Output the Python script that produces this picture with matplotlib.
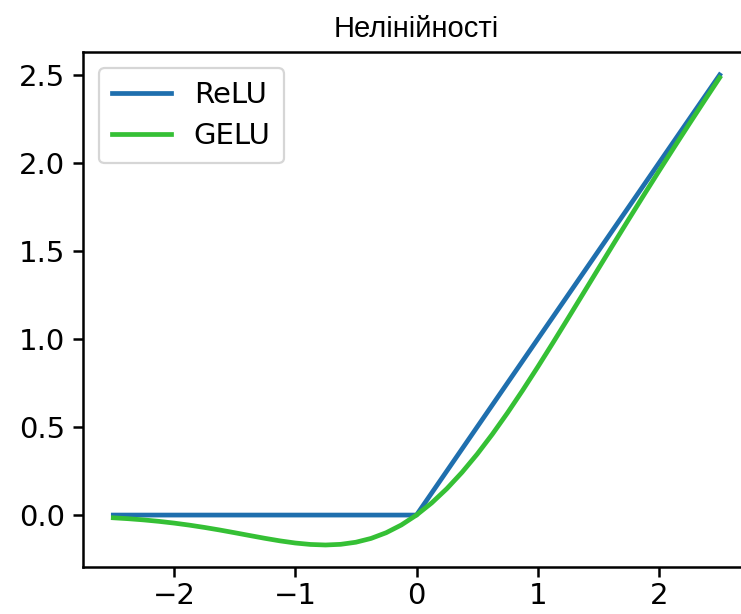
import matplotlib
matplotlib.use("Agg")
import matplotlib.pyplot as plt

title = "Нелінійності"
series_names = ["ReLU", "GELU"]

relu_x = [-2.5, 0.0, 2.5]
relu_y = [0.0, 0.0, 2.5]

gelu_x = [-2.5, -2.375, -2.25, -2.125, -2.0, -1.875, -1.75, -1.625, -1.5, -1.375,
          -1.25, -1.125, -1.0, -0.875, -0.75, -0.625, -0.5, -0.375, -0.25, -0.125,
          0.0, 0.125, 0.25, 0.375, 0.5, 0.625, 0.75, 0.875, 1.0, 1.125,
          1.25, 1.375, 1.5, 1.625, 1.75, 1.875, 2.0, 2.125, 2.25, 2.375, 2.5]
gelu_y = [-0.0155, -0.0208, -0.0275, -0.0357, -0.0455, -0.0570, -0.0701, -0.0846, -0.1002, -0.1163,
          -0.1321, -0.1466, -0.1587, -0.1669, -0.1700, -0.1662, -0.1543, -0.1327, -0.1003, -0.0563,
          0.0, 0.0687, 0.1497, 0.2423, 0.3457, 0.4588, 0.5800, 0.7081, 0.8413, 0.9784,
          1.1179, 1.2587, 1.3998, 1.5404, 1.6799, 1.8180, 1.9545, 2.0893, 2.2225, 2.3542, 2.4845]

xticks = [-2, -1, 0, 1, 2]
yticks = [0.0, 0.5, 1.0, 1.5, 2.0, 2.5]

fig = plt.figure(figsize=(7.41, 6.14), dpi=100)
ax = fig.add_axes([83 / 741, 1 - 567 / 614, (750 - 83) / 741, (567 - 52) / 614])

ax.plot(relu_x, relu_y, color="#1f6fae", lw=3.4, label=series_names[0])
ax.plot(gelu_x, gelu_y, color="#35c035", lw=3.4, label=series_names[1])

ax.set_xlim(-2.75, 2.75)
ax.set_ylim(-0.295, 2.63)
ax.set_xticks(xticks)
ax.set_yticks(yticks)
ax.set_yticklabels([f"{v:.1f}" for v in yticks])
ax.tick_params(labelsize=21, length=7, width=1.8)
ax.tick_params(axis="x", pad=4)
ax.tick_params(axis="y", pad=6)
for s in ax.spines.values():
    s.set_linewidth(1.8)

ax.set_title(title, fontsize=21, family="Liberation Sans", pad=11)
leg = ax.legend(loc="upper left", fontsize=21, handlelength=2.0, borderpad=0.45,
                labelspacing=0.45, handletextpad=0.8, borderaxespad=0.55)
leg.get_frame().set_linewidth(1.6)

fig.savefig("out.png", dpi=100)
